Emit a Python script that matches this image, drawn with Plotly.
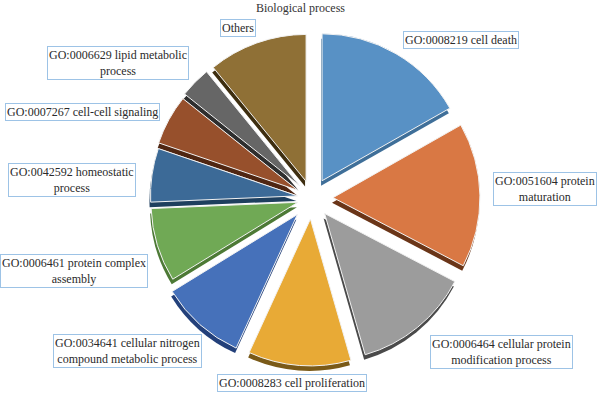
import plotly.graph_objects as go

# ---- data ----
categories = [
    "GO:0008219 cell death",
    "GO:0051604 protein maturation",
    "GO:0006464 cellular protein modification process",
    "GO:0008283 cell proliferation",
    "GO:0034641 cellular nitrogen compound metabolic process",
    "GO:0006461 protein complex assembly",
    "GO:0042592 homeostatic process",
    "GO:0007267 cell-cell signaling",
    "GO:0006629 lipid metabolic process",
    "Others",
]
values = [16.8, 15.9, 12.9, 11.3, 9.4, 8.1, 5.9, 5.5, 3.4, 10.9]
box_texts = [
    "GO:0008219 cell death",
    "GO:0051604 protein<br>maturation",
    "GO:0006464 cellular protein<br>modification process",
    "GO:0008283 cell proliferation",
    "GO:0034641 cellular nitrogen<br>compound metabolic process",
    "GO:0006461 protein complex<br>assembly",
    "GO:0042592 homeostatic<br>process",
    "GO:0007267 cell-cell signaling",
    "GO:0006629 lipid metabolic<br>process",
    "Others",
]
title_text = "Biological process"

# ---- styles ----
colors = ["#5891C5", "#D97844", "#9C9C9C", "#E8AA36", "#4671BA",
          "#70A955", "#3C6A97", "#97502C", "#666666", "#8F7036"]
shadow_colors = ["#3F6F99", "#6A3518", "#4A4A4A", "#7A5A18", "#23407A",
                 "#4D7A36", "#1E3F5E", "#4F2612", "#2E2E2E", "#3E2E10"]
pulls = [0.136, 0.143, 0.136, 0.143, 0.15, 0.1, 0.1, 0.11, 0.12, 0.12]

W, H = 600, 394
cx, cy, R = 312, 198, 169
dom_x = [(cx - R) / W, (cx + R) / W]
dom_y = [1 - (cy + R) / H, 1 - (cy - R) / H]
sh_dx, sh_dy = -1, 5
sdom_x = [dom_x[0] + sh_dx / W, dom_x[1] + sh_dx / W]
sdom_y = [dom_y[0] - sh_dy / H, dom_y[1] - sh_dy / H]

fig = go.Figure()
fig.add_trace(go.Pie(
    labels=categories, values=values, sort=False, direction="clockwise",
    rotation=0, pull=pulls, textinfo="none", hoverinfo="skip",
    marker=dict(colors=shadow_colors, line=dict(width=0)),
    domain=dict(x=sdom_x, y=sdom_y), showlegend=False,
))
fig.add_trace(go.Pie(
    labels=categories, values=values, sort=False, direction="clockwise",
    rotation=0, pull=pulls, textinfo="none",
    marker=dict(colors=colors, line=dict(color="#F2F2F2", width=1)),
    domain=dict(x=dom_x, y=dom_y), showlegend=False,
))

# label boxes: (x px, y px, xanchor, yanchor)
box_pos = [(461, 40, "center", "middle"), (597, 189, "right", "middle"),
           (501, 352, "center", "middle"), (292, 392, "center", "bottom"),
           (127, 351, "center", "middle"), (74, 271, "center", "middle"),
           (72, 180, "center", "middle"), (82, 112, "center", "middle"),
           (118, 63, "center", "middle"), (238, 28, "center", "middle")]
for t, (px, py, xa, ya) in zip(box_texts, box_pos):
    fig.add_annotation(
        text=t, x=px / W, y=1 - py / H, xref="paper", yref="paper",
        xanchor=xa, yanchor=ya, showarrow=False,
        font=dict(family="Liberation Serif", size=12, color="#2A2A2A"),
        bordercolor="#9DC3E6", borderwidth=1, borderpad=1, bgcolor="white",
    )

fig.add_annotation(
    text=title_text, x=0.5, y=1 - 8 / H, xref="paper", yref="paper",
    xanchor="center", yanchor="middle", showarrow=False,
    font=dict(family="Liberation Serif", size=12, color="#333333"),
)

fig.update_layout(
    width=W, height=H, margin=dict(l=0, r=0, t=0, b=0),
    paper_bgcolor="white", plot_bgcolor="white",
)
fig.write_html("out.html", config={"displayModeBar": False},
               post_script="document.body.style.margin='0';")
